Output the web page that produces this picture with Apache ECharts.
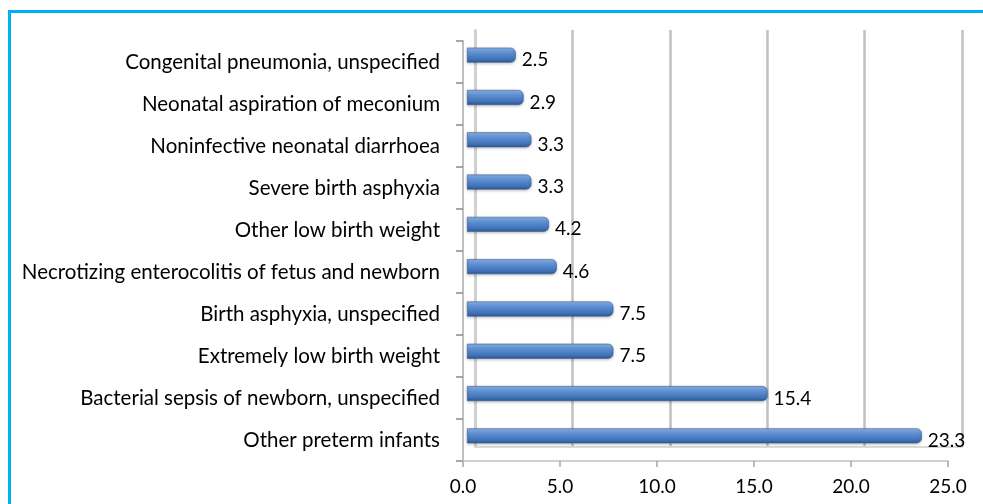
<!DOCTYPE html>
<html>
<head>
<meta charset="utf-8">
<script src="https://cdn.jsdelivr.net/npm/echarts@6/dist/echarts.min.js"></script>
<style>
html,body{margin:0;padding:0;background:#fff;}
#c{width:983px;height:504px;}
</style>
</head>
<body>
<div id="c"></div>
<script>
var categories = [
  "Congenital pneumonia, unspecified",
  "Neonatal aspiration of meconium",
  "Noninfective neonatal diarrhoea",
  "Severe birth asphyxia",
  "Other low birth weight",
  "Necrotizing enterocolitis of fetus and newborn",
  "Birth asphyxia, unspecified",
  "Extremely low birth weight",
  "Bacterial sepsis of newborn, unspecified",
  "Other preterm infants"
];
var values = [2.5, 2.9, 3.3, 3.3, 4.2, 4.6, 7.5, 7.5, 15.4, 23.3];
var xTicks = [0, 5, 10, 15, 20, 25];

var FONT = 'Lato';
var grey = '#c0c0c0';
var chart = echarts.init(document.getElementById('c'));
chart.setOption({
  backgroundColor: '#ffffff',
  animation: false,
  graphic: [{
    type: 'rect', z: 100, silent: true,
    shape: {x: 9.5, y: 11.5, width: 1100, height: 700},
    style: {fill: 'none', stroke: '#00b0f0', lineWidth: 3}
  }],
  grid: [
    {left: 475, right: 21, top: 30, bottom: 57},
    {left: 463, right: 35, top: 41, bottom: 43},
    {left: 467, right: 28, top: 34, bottom: 47}
  ],
  xAxis: [
    {gridIndex: 0, type: 'value', min: xTicks[0], max: xTicks[xTicks.length-1], interval: 5,
     axisLine: {show: true, lineStyle: {color: '#d9d9d9', width: 2}},
     axisTick: {show: false}, axisLabel: {show: false},
     splitLine: {show: true, lineStyle: {color: grey, width: 2.5}}},
    {gridIndex: 1, type: 'value', min: xTicks[0], max: xTicks[xTicks.length-1], interval: 5,
     axisLine: {show: true, onZero: false, lineStyle: {color: '#cfcfcf', width: 2}},
     axisTick: {show: true, length: 6, lineStyle: {color: '#a6a6a6', width: 1.5}},
     axisLabel: {show: true, margin: 16, color: '#000', fontSize: 19, fontFamily: FONT,
       formatter: function (v) { return v.toFixed(1); }},
     splitLine: {show: false}},
    {gridIndex: 2, type: 'value', min: xTicks[0], max: xTicks[xTicks.length-1], show: false}
  ],
  yAxis: [
    {gridIndex: 0, type: 'category', data: categories, inverse: true,
     axisLine: {show: true, lineStyle: {color: '#d0d0d0', width: 2}},
     axisTick: {show: false}, axisLabel: {show: false}, splitLine: {show: false}},
    {gridIndex: 1, type: 'category', data: categories, inverse: true,
     axisLine: {show: true, lineStyle: {color: '#bfbfbf', width: 2}},
     axisTick: {show: true, length: 7, lineStyle: {color: '#8c8c8c', width: 1.5}},
     axisLabel: {show: true, margin: 23, color: '#000', fontSize: 20.5, fontFamily: FONT,
       padding: [7, 0, 0, 0]}},
    {gridIndex: 2, type: 'category', data: categories, inverse: true, show: false}
  ],
  series: [{
    type: 'bar', xAxisIndex: 2, yAxisIndex: 2,
    data: values, barWidth: 15,
    itemStyle: {
      borderRadius: [0, 5, 5, 0],
      color: new echarts.graphic.LinearGradient(0, 0, 0, 1, [
        {offset: 0, color: '#8fb3e3'},
        {offset: 0.35, color: '#5b8fd2'},
        {offset: 0.8, color: '#3f70b5'},
        {offset: 1, color: '#2b548e'}
      ]),
      borderColor: '#3a6399', borderWidth: 0.6,
      shadowColor: 'rgba(0,0,0,0.25)', shadowBlur: 3, shadowOffsetY: 1
    },
    label: {show: true, position: 'right', distance: 6, color: '#000',
      fontSize: 19, fontFamily: FONT, offset: [0, 5],
      formatter: function (p) { return p.value.toFixed(1); }}
  }]
});
</script>
</body>
</html>
